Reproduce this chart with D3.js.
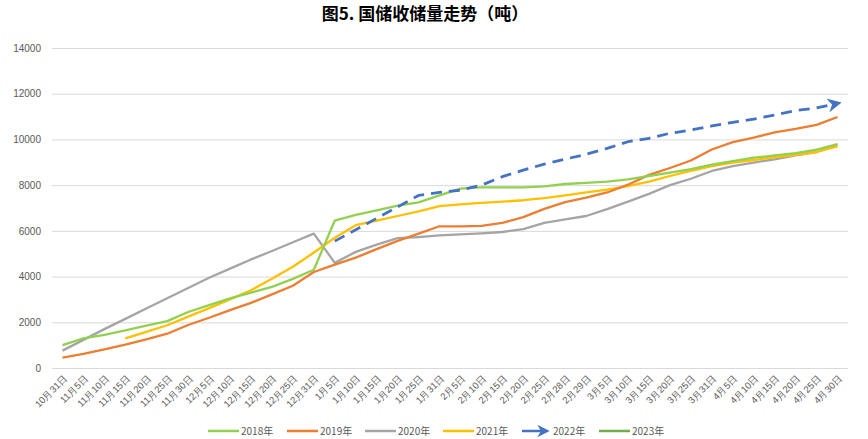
<!DOCTYPE html>
<html>
<head>
<meta charset="utf-8">
<script src="https://cdn.jsdelivr.net/npm/d3@7"></script>
<style>
  body { margin: 0; background: #fff; }
  svg { font-family: "Noto Sans CJK SC", "Noto Sans", sans-serif; }
</style>
</head>
<body>
<div id="chart"></div>
<script>
const dates = ['10月31日','11月5日','11月10日','11月15日','11月20日','11月25日','11月30日',
    '12月5日','12月10日','12月15日','12月20日','12月25日','12月31日',
    '1月5日','1月10日','1月15日','1月20日','1月25日','1月31日',
    '2月5日','2月10日','2月15日','2月20日','2月25日','2月28日','2月29日',
    '3月5日','3月10日','3月15日','3月20日','3月25日','3月31日',
    '4月5日','4月10日','4月15日','4月20日','4月25日','4月30日'];

const y2018 = [1000,1300,1450,1650,1850,2050,2450,2750,3050,3300,3550,3900,4300,
    6450,6700,6900,7100,7250,7550,7850,7900,7900,7900,7950,8050,8100,
    8150,8250,8400,8550,8700,8900,9050,9200,9300,9400,9550,9800];
const y2019 = [450,620,820,1020,1250,1500,1880,2200,2530,2850,3220,3600,4200,
    4520,4830,5200,5560,5880,6200,6200,6220,6350,6600,6960,7260,7450,
    7680,8020,8450,8750,9080,9560,9880,10080,10310,10460,10640,10980];
const y2020 = [760,1230,1700,2150,2600,3050,3500,3950,4350,4750,5120,5500,5880,
    4600,5080,5400,5680,5730,5800,5850,5890,5950,6080,6350,6500,6650,
    6950,7280,7620,8000,8280,8620,8830,8990,9130,9300,9450,9780];
const y2021 = [null,null,null,1300,1580,1870,2250,2620,3000,3400,3900,4430,5050,
    5700,6250,6450,6650,6850,7080,7160,7220,7280,7340,7430,7550,7680,
    7800,7960,8150,8400,8620,8830,8990,9100,9220,9330,9450,9700];
const y2022 = [null,null,null,null,null,null,null,null,null,null,null,null,null,
    5550,6050,6550,7050,7550,7680,7780,8000,8370,8660,8920,9140,9350,
    9610,9900,10050,10270,10410,10590,10750,10890,11070,11260,11380,11580];
const y2023 = [];

const yTicks = [0,2000,4000,6000,8000,10000,12000,14000];
const years = ['2018年','2019年','2020年','2021年','2022年','2023年'];
const colors = ['#92D050','#ED7D31','#A5A5A5','#FFC000','#4472C4','#70AD47'];
const seriesList = [y2018, y2019, y2020, y2021, y2022, y2023];

const width = 868, height = 439;
const plotLeft = 52, plotRight = 848, plotTop = 48, plotBottom = 368;

const svg = d3.select('#chart').append('svg')
    .attr('width', width)
    .attr('height', height);

// title
svg.append('text')
    .attr('x', 425).attr('y', 20)
    .attr('text-anchor', 'middle')
    .style('font-size', '17px')
    .style('font-weight', 'bold')
    .style('fill', '#000')
    .text('图5. 国储收储量走势（吨）');

const x = d3.scalePoint().domain(dates).range([plotLeft, plotRight]).padding(0.5);
const y = d3.scaleLinear().domain([0, 14000]).range([plotBottom, plotTop]);

// y axis + gridlines
const yAxis = svg.append('g')
    .attr('transform', `translate(${plotLeft},0)`)
    .call(d3.axisLeft(y).tickValues(yTicks).tickFormat(d3.format('d'))
        .tickSize(-(plotRight - plotLeft)).tickPadding(11));
yAxis.select('.domain').remove();
yAxis.selectAll('.tick line').attr('stroke', '#d9d9d9').attr('stroke-width', 1);
yAxis.selectAll('.tick text')
    .style('font-size', '10px')
    .style('fill', '#595959')
    .style('font-family', '"Liberation Sans Narrow", "Liberation Sans", sans-serif');

// x axis labels
const xAxis = svg.append('g')
    .attr('transform', `translate(0,${plotBottom})`)
    .call(d3.axisBottom(x).tickSize(0).tickPadding(0));
xAxis.select('.domain').remove();
xAxis.selectAll('.tick text')
    .attr('text-anchor', 'end')
    .attr('dy', null)
    .attr('transform', 'translate(5,11) rotate(-45)')
    .style('font-size', '9.5px')
    .style('fill', '#595959');

// arrow marker for 2022
svg.append('defs').append('marker')
    .attr('id', 'arrow')
    .attr('viewBox', '0 0 10 10')
    .attr('refX', 7).attr('refY', 5)
    .attr('markerWidth', 5).attr('markerHeight', 5)
    .attr('markerUnits', 'strokeWidth')
    .attr('orient', 'auto')
    .append('path')
    .attr('d', 'M0,0 L10,5 L0,10 L3,5 Z')
    .attr('fill', colors[4]);

const line = d3.line()
    .defined(d => d != null)
    .x((d, i) => x(dates[i]))
    .y(d => y(d));

const drawOrder = [2, 3, 1, 0, 4];
drawOrder.forEach(k => {
    const p = svg.append('path')
        .datum(seriesList[k])
        .attr('fill', 'none')
        .attr('stroke', colors[k])
        .attr('stroke-width', k === 4 ? 2.8 : 2.3)
        .attr('stroke-linejoin', 'round')
        .attr('d', line);
    if (k === 4) {
        p.attr('stroke-dasharray', '11,7')
         .attr('marker-end', 'url(#arrow)');
    }
});

// legend
const legendX = [208, 287, 365, 443, 522, 599];
const legend = svg.append('g').attr('transform', 'translate(0,431)');
years.forEach((name, i) => {
    const g = legend.append('g').attr('transform', `translate(${legendX[i]},0)`);
    if (i === 4) {
        g.append('line')
            .attr('x1', 0).attr('x2', 24).attr('y1', 0).attr('y2', 0)
            .attr('stroke', colors[i]).attr('stroke-width', 2.5)
            .attr('marker-end', 'url(#arrow)');
    } else {
        g.append('line')
            .attr('x1', 0).attr('x2', 31).attr('y1', 0).attr('y2', 0)
            .attr('stroke', colors[i]).attr('stroke-width', 2.5);
    }
    g.append('text')
        .attr('x', i === 4 ? 31 : 33).attr('y', 4)
        .style('font-size', '10px')
        .style('fill', '#595959')
        .text(name);
});
</script>
</body>
</html>
